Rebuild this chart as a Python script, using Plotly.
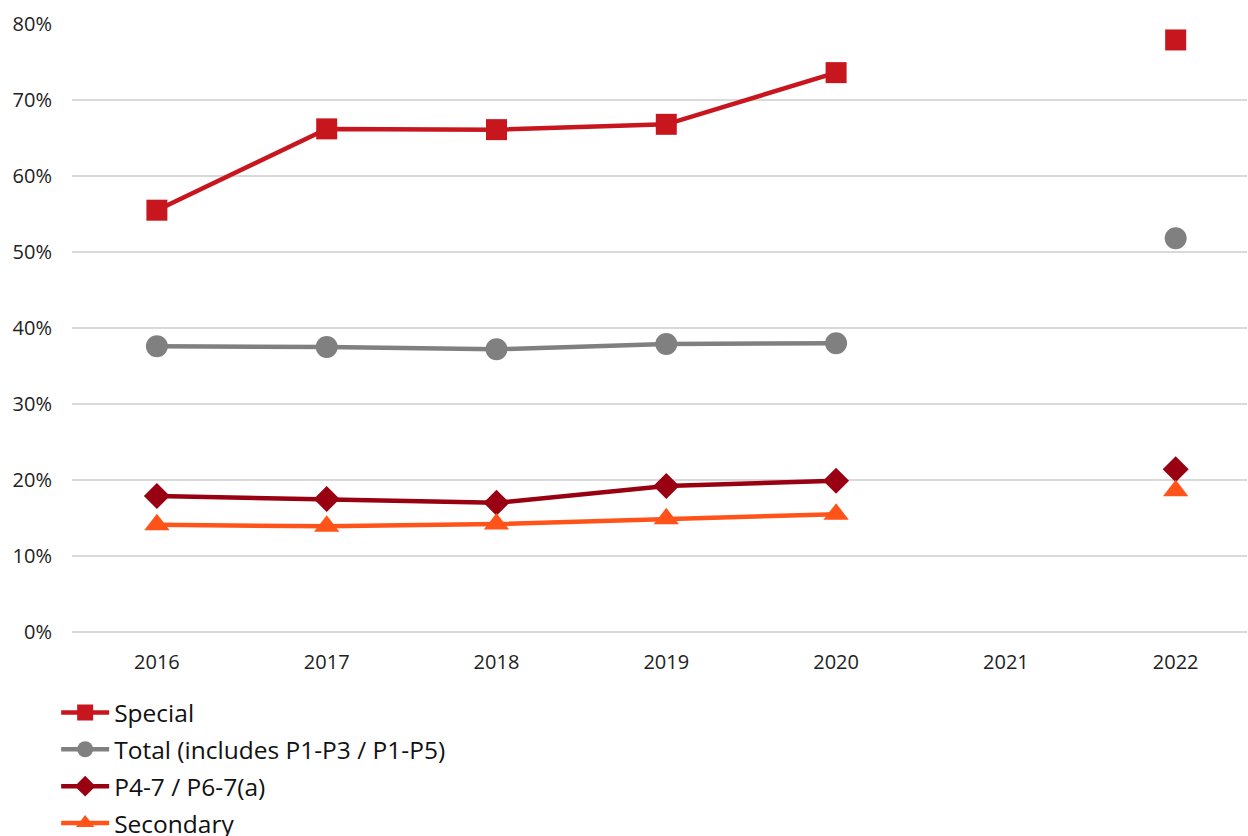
import plotly.graph_objects as go

years = ["2016", "2017", "2018", "2019", "2020", "2021", "2022"]
special = [0.555, 0.662, 0.661, 0.668, 0.736, None, 0.779]
total = [0.376, 0.375, 0.372, 0.379, 0.380, None, 0.518]
p47 = [0.179, 0.175, 0.170, 0.192, 0.199, None, 0.214]
secondary = [0.141, 0.139, 0.142, 0.149, 0.155, None, 0.186]

series = [
    ("Special", special, "#C8161E", "square", 21),
    ("Total (includes P1-P3 / P1-P5)", total, "#808080", "circle", 22),
    ("P4-7 / P6-7(a)", p47, "#990011", "diamond", 20),
    ("Secondary", secondary, "#FF5319", "triangle-up", 22),
]

fig = go.Figure()
for i, (name, vals, col, sym, sz) in enumerate(series):
    fig.add_trace(go.Scatter(
        x=years, y=vals, name=name, mode="lines+markers",
        line=dict(color=col, width=4.5),
        marker=dict(symbol=sym, size=sz, color=col),
        connectgaps=False, legendgroup=str(i),
        cliponaxis=False,
    ))

fig.update_layout(
    width=1248, height=836,
    margin=dict(l=72, r=1, t=24, b=204, autoexpand=False),
    plot_bgcolor="white", paper_bgcolor="white",
    font=dict(family="Open Sans, Liberation Sans, sans-serif", color="#222222"),
    showlegend=True,
    legend=dict(
        xref="container", yref="container",
        x=0.045, y=1 - 690/836, xanchor="left", yanchor="top",
        orientation="v", font=dict(size=24.5, color="#111111"),
        tracegroupgap=2, itemwidth=48,
    ),
)
fig.update_xaxes(
    type="category", range=[-0.5, 6.42], showgrid=False,
    showline=False, ticks="", tickfont=dict(size=20),
    ticklabelstandoff=16,
)
fig.update_yaxes(
    range=[0, 0.8], dtick=0.1, tickformat=".0%",
    showgrid=True, gridcolor="#D9D9D9", gridwidth=1.5,
    zeroline=True, zerolinecolor="#D9D9D9", zerolinewidth=1.5,
    tickfont=dict(size=20), ticklabelstandoff=19,
)

fig.write_html("out.html")
